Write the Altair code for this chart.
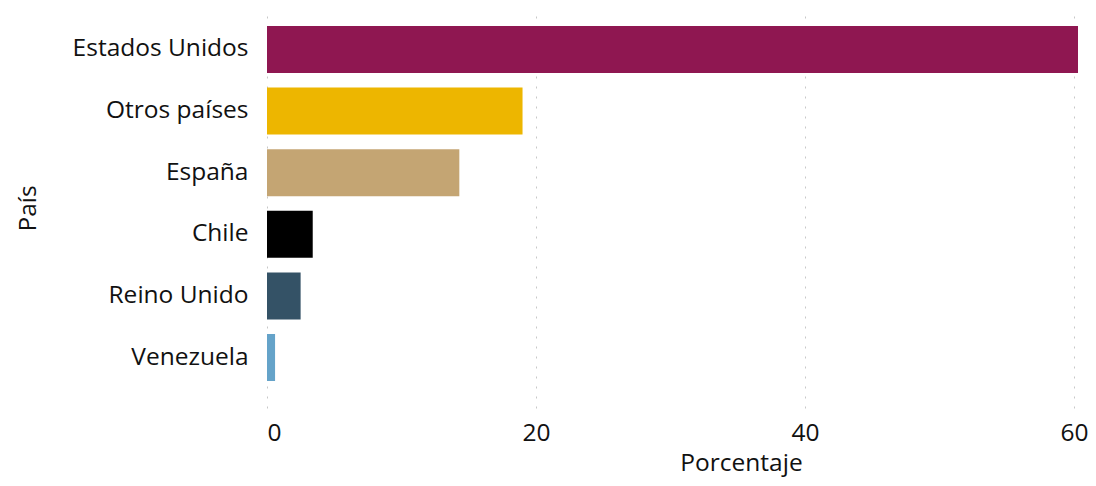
import altair as alt
import pandas as pd

paises = ["Estados Unidos", "Otros países", "España", "Chile", "Reino Unido", "Venezuela"]
porcentajes = [60.3, 19.0, 14.3, 3.4, 2.5, 0.6]
colores = ["#8F1751", "#EDB600", "#C4A573", "#000000", "#345266", "#65A3C9"]

df = pd.DataFrame({"País": paises, "Porcentaje": porcentajes})

FONT = "Open Sans"
FS = 24.5

chart = alt.Chart(df).mark_bar().encode(
    y=alt.Y("País:N", sort=paises,
            scale=alt.Scale(paddingInner=0.237, paddingOuter=0.365, align=0.4),
            axis=alt.Axis(title="País", labelFontSize=FS, titleFontSize=FS,
                          labelPadding=19, titlePadding=32, ticks=False, domain=False,
                          labelColor="#111", titleColor="#111",
                          labelFont=FONT, titleFont=FONT, titleFontWeight="normal")),
    x=alt.X("Porcentaje:Q", scale=alt.Scale(domain=[0, 60.3], nice=False),
            axis=alt.Axis(title="Porcentaje", values=[0, 20, 40, 60], labelFontSize=FS,
                          titleFontSize=FS, ticks=False, domain=False, labelPadding=13,
                          titlePadding=7, gridDash=[2, 8], gridColor="#c8c8c8",
                          labelColor="#111", titleColor="#111", titleX=474,
                          labelFont=FONT, titleFont=FONT, titleFontWeight="normal")),
    color=alt.Color("País:N", scale=alt.Scale(domain=paises, range=colores), legend=None),
).properties(
    width=811, height=400, autosize="none",
    padding={"left": 259, "top": 0, "right": 10, "bottom": 70},
).configure_view(stroke=None).configure_axisY(grid=False)

chart.save("out.html", embed_options={"renderer": "svg", "actions": False})
